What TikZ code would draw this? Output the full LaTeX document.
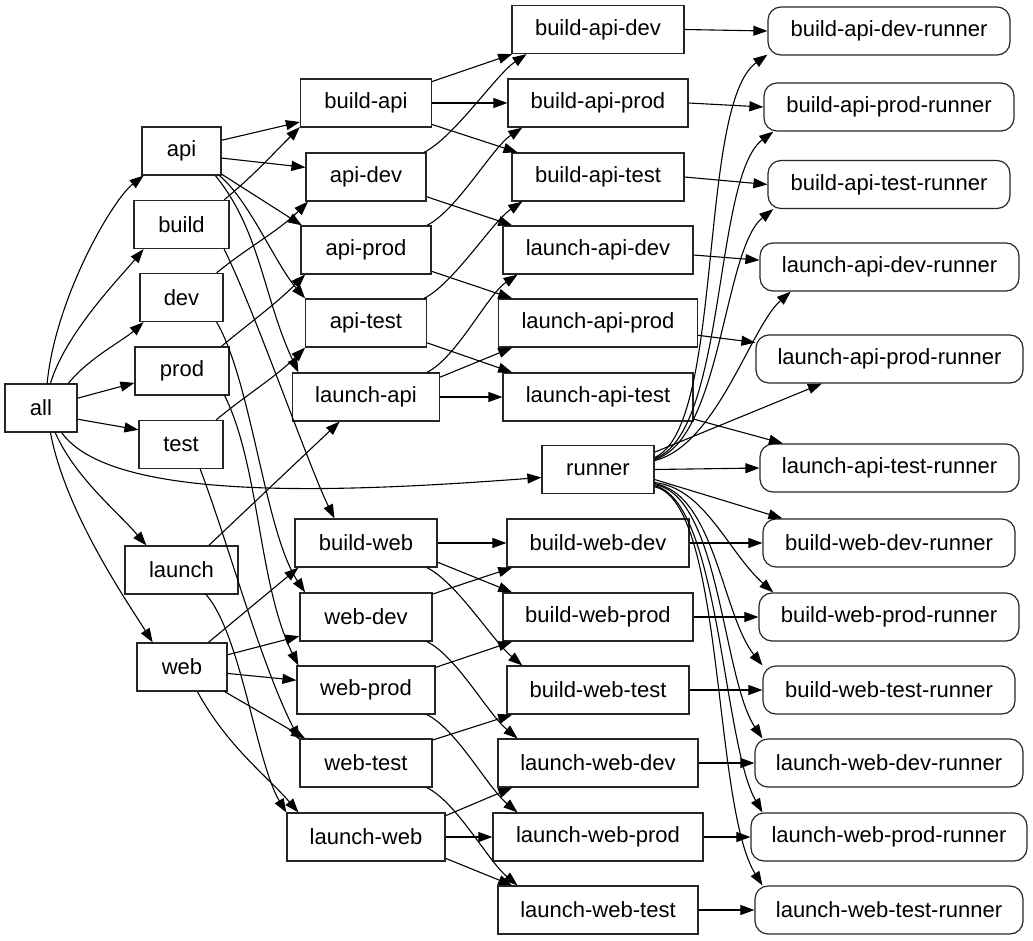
\documentclass[tikz,border=0pt]{standalone}
\usepackage{fontspec}
\setmainfont{Liberation Sans}
\usetikzlibrary{arrows.meta}
\begin{document}
\begin{tikzpicture}[x=1pt,y=-1pt,
  bx/.style={draw=black!85, line width=1.2pt, rectangle, minimum height=48pt, inner sep=0pt, font=\fontsize{22}{24}\selectfont},
  rbx/.style={bx, rounded corners=13pt},
  edge/.style={line width=1.1pt, -{Triangle[length=14pt,width=10pt]}},
]
\useasboundingbox (0,0) rectangle (1033,940);
% column 1
\node[bx,minimum width=72pt] (all) at (41,408) {all};
% column 2
\node[bx,minimum width=79pt] (api) at (181.5,151) {api};
\node[bx,minimum width=95pt] (build) at (181.5,224.5) {build};
\node[bx,minimum width=83pt] (dev) at (181.5,297.5) {dev};
\node[bx,minimum width=94pt] (prod) at (182,371) {prod};
\node[bx,minimum width=84pt] (test) at (181,444.5) {test};
\node[bx,minimum width=113pt] (launch) at (181.5,570) {launch};
\node[bx,minimum width=90pt] (web) at (182,667) {web};
% column 3
\node[bx,minimum width=131pt] (bapi) at (366,103) {build-api};
\node[bx,minimum width=120pt] (apidev) at (366,177) {api-dev};
\node[bx,minimum width=130pt] (apiprod) at (366,250) {api-prod};
\node[bx,minimum width=121pt] (apitest) at (366,323) {api-test};
\node[bx,minimum width=147pt] (lapi) at (366,397) {launch-api};
\node[bx,minimum width=142pt] (bweb) at (366,543) {build-web};
\node[bx,minimum width=132pt] (webdev) at (366,617) {web-dev};
\node[bx,minimum width=138pt] (webprod) at (366,690) {web-prod};
\node[bx,minimum width=132pt] (webtest) at (366,763) {web-test};
\node[bx,minimum width=158pt] (lweb) at (366,837) {launch-web};
% column 4
\node[bx,minimum width=172pt] (bad) at (598,29.5) {build-api-dev};
\node[bx,minimum width=180pt] (bap) at (598,103) {build-api-prod};
\node[bx,minimum width=172pt] (bat) at (598,177) {build-api-test};
\node[bx,minimum width=190pt] (lad) at (598,250) {launch-api-dev};
\node[bx,minimum width=199pt] (lap) at (598,323) {launch-api-prod};
\node[bx,minimum width=190pt] (lat) at (598,397) {launch-api-test};
\node[bx,minimum width=112pt] (runner) at (598,469.5) {runner};
\node[bx,minimum width=182pt] (bwd) at (598,543) {build-web-dev};
\node[bx,minimum width=190pt] (bwp) at (598,617) {build-web-prod};
\node[bx,minimum width=182pt] (bwt) at (598,690) {build-web-test};
\node[bx,minimum width=200pt] (lwd) at (598,763) {launch-web-dev};
\node[bx,minimum width=210pt] (lwp) at (598,837) {launch-web-prod};
\node[bx,minimum width=200pt] (lwt) at (598,910) {launch-web-test};
% column 5
\node[rbx,minimum width=242pt] (rbad) at (889,31) {build-api-dev-runner};
\node[rbx,minimum width=250pt] (rbap) at (889,107) {build-api-prod-runner};
\node[rbx,minimum width=242pt] (rbat) at (889,184.5) {build-api-test-runner};
\node[rbx,minimum width=259pt] (rlad) at (889.5,267) {launch-api-dev-runner};
\node[rbx,minimum width=267pt] (rlap) at (889.5,359) {launch-api-prod-runner};
\node[rbx,minimum width=259pt] (rlat) at (889.5,468) {launch-api-test-runner};
\node[rbx,minimum width=252pt] (rbwd) at (889,543) {build-web-dev-runner};
\node[rbx,minimum width=260pt] (rbwp) at (889,617) {build-web-prod-runner};
\node[rbx,minimum width=252pt] (rbwt) at (889,690) {build-web-test-runner};
\node[rbx,minimum width=268pt] (rlwd) at (889,763) {launch-web-dev-runner};
\node[rbx,minimum width=276pt] (rlwp) at (889,837) {launch-web-prod-runner};
\node[rbx,minimum width=268pt] (rlwt) at (889,910) {launch-web-test-runner};

% all -> column 2
\draw[edge] (all.76) .. controls +(8,-84) and +(-32,25) .. (api.213);
\draw[edge] (all.69) .. controls +(15,-50) and +(-25,30) .. (build.213);
\draw[edge] (all.42) .. controls +(20,-25) and +(-20,18) .. (dev.213);
\draw[edge] (all.15.5) -- (prod.194);
\draw[edge] (all.-17) -- (test.161);
\draw[edge] (all.-60) .. controls +(20,45) and +(-30,-35) .. (launch.145);
\draw[edge] (all.-69) .. controls +(15,80) and +(-25,-40) .. (web.140);
\draw[edge] (all.-50) .. controls +(50,70) and +(-200,15) .. (runner.188);

% column 2 -> column 3
\draw[edge] (api.15.6) -- (bapi.196);
\draw[edge] (api.-10) -- (apidev.171.5);
\draw[edge] (api.-30) -- (apiprod.159);
\draw[edge] (api.-33) .. controls +(30,25) and +(-30,-35) .. (apitest.158);
\draw[edge] (api.-36) .. controls +(45,55) and +(-35,-75) .. (lapi.160);
\draw[edge] (build.30) .. controls +(30,-25) and +(-30,30) .. (bapi.200);
\draw[edge] (build.-30) .. controls +(30,60) and +(-25,-50) .. (bweb.142);
\draw[edge] (dev.35) .. controls +(30,-25) and +(-30,30) .. (apidev.203);
\draw[edge] (dev.-35) .. controls +(35,60) and +(-40,-60) .. (webdev.158);
\draw[edge] (prod.32) .. controls +(30,-25) and +(-30,30) .. (apiprod.202);
\draw[edge] (prod.-30) .. controls +(35,70) and +(-40,-80) .. (webprod.160);
\draw[edge] (test.35) .. controls +(30,-25) and +(-30,30) .. (apitest.202);
\draw[edge] (test.-52) .. controls +(30,80) and +(-40,-80) .. (webtest.161);
\draw[edge] (launch.42) -- (lapi.223);
\draw[edge] (launch.-45) .. controls +(35,40) and +(-30,-50) .. (lweb.163);
\draw[edge] (web.43) -- (bweb.200);
\draw[edge] (web.15) -- (webdev.196);
\draw[edge] (web.-8) -- (webprod.172);
\draw[edge] (web.-30) -- (webtest.158);
\draw[edge] (web.-58) .. controls +(30,55) and +(-30,-35) .. (lweb.160);

% column 3 -> column 4
\draw[edge] (bapi.18) -- (bad.196);
\draw[edge] (bapi.east) -- (bap.west);
\draw[edge] (bapi.-18) -- (bat.163);
\draw[edge] (apidev.23) .. controls +(30,-15) and +(-30,20) .. (bad.199);
\draw[edge] (apidev.-18) -- (lad.164);
\draw[edge] (apiprod.22) .. controls +(30,-15) and +(-30,20) .. (bap.198);
\draw[edge] (apiprod.-18) -- (lap.164);
\draw[edge] (apitest.23) .. controls +(30,-15) and +(-30,20) .. (bat.198);
\draw[edge] (apitest.-18) -- (lat.164);
\draw[edge] (lapi.22) .. controls +(30,-15) and +(-30,20) .. (lad.197);
\draw[edge] (lapi.15) -- (lap.196);
\draw[edge] (lapi.east) -- (lat.west);

\draw[edge] (bweb.east) -- (bwd.west);
\draw[edge] (bweb.-15) -- (bwp.164);
\draw[edge] (bweb.-22) .. controls +(30,15) and +(-30,-25) .. (bwt.162);
\draw[edge] (webdev.19) -- (bwd.196);
\draw[edge] (webdev.-22) .. controls +(30,15) and +(-30,-25) .. (lwd.163);
\draw[edge] (webprod.18) -- (bwp.196);
\draw[edge] (webprod.-22) .. controls +(30,15) and +(-30,-25) .. (lwp.163);
\draw[edge] (webtest.19) -- (bwt.196);
\draw[edge] (webtest.-22) .. controls +(30,15) and +(-30,-25) .. (lwt.163);
\draw[edge] (lweb.15) -- (lwd.196);
\draw[edge] (lweb.east) -- (lwp.west);
\draw[edge] (lweb.-15) -- (lwt.164);

% column 4 -> column 5
\draw[edge] (bad.east) -- (rbad.west);
\draw[edge] (bap.east) -- (rbap.west);
\draw[edge] (bat.east) -- (rbat.west);
\draw[edge] (lad.-3) -- (rlad.177);
\draw[edge] (lap.-7) -- (rlap.173);
\draw[edge] (lat.-13) -- (rlat.167);
\draw[edge] (bwd.east) -- (rbwd.west);
\draw[edge] (bwp.east) -- (rbwp.west);
\draw[edge] (bwt.east) -- (rbwt.west);
\draw[edge] (lwd.east) -- (rlwd.west);
\draw[edge] (lwp.east) -- (rlwp.west);
\draw[edge] (lwt.east) -- (rlwt.west);

% runner -> runners
\draw[edge] (runner.12) .. controls +(70,-30) and +(-70,50) .. (rbad.191);
\draw[edge] (runner.11) .. controls +(72,-25) and +(-60,45) .. (rbap.192);
\draw[edge] (runner.10) .. controls +(67,-20) and +(-50,40) .. (rbat.192);
\draw[edge] (runner.9) .. controls +(62,-15) and +(-40,35) .. (rlad.194);
\draw[edge] (runner.17) -- (rlap.200);
\draw[edge] (runner.east) -- (rlat.west);
\draw[edge] (runner.-10) -- (rbwd.167);
\draw[edge] (runner.-13) .. controls +(50,5) and +(-45,-40) .. (rbwp.168);
\draw[edge] (runner.-14) .. controls +(60,10) and +(-40,-50) .. (rbwt.169);
\draw[edge] (runner.-15) .. controls +(65,10) and +(-40,-60) .. (rlwd.169);
\draw[edge] (runner.-16) .. controls +(65,15) and +(-40,-70) .. (rlwp.169);
\draw[edge] (runner.-17) .. controls +(70,15) and +(-50,-80) .. (rlwt.169);
\end{tikzpicture}
\end{document}
